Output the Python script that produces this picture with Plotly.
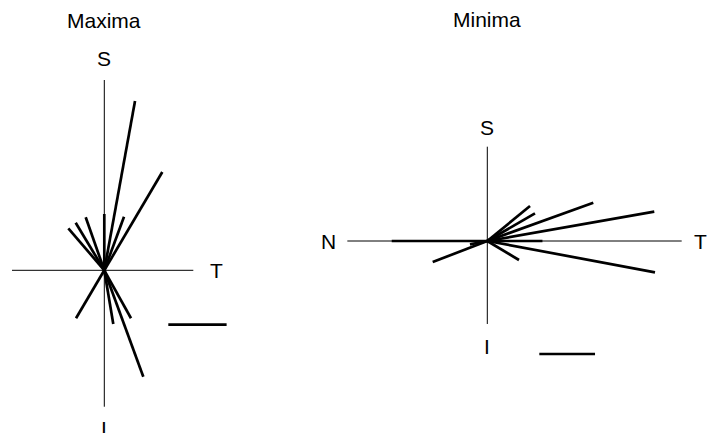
"""Polar-style vector plot: maxima and minima components in the S/T plane."""

import plotly.graph_objects as go

# vector components (units of the scale bar); T = horizontal, S = vertical
max_t = [0.527, 0.995, -0.617, -0.491, -0.319, 0.0, 0.338, -0.485, 0.154, 0.458, 0.669]
max_s = [2.904, 1.686, 0.720, 0.816, 0.909, 0.966, 0.919, -0.823, -0.921, -0.823, -1.825]

min_t = [0.767, 0.856, 1.903, 2.998, 0.99, 3.011, 0.569, -0.980, -1.716, -0.311]
min_s = [0.628, 0.497, 0.688, 0.526, 0.0, -0.562, -0.341, -0.377, 0.0, -0.06]

panel_titles = ["Maxima", "Minima"]
scale_bar = 1.0

W, H = 710, 433
FONT = dict(family="Liberation Sans, Arial, sans-serif", size=21, color="black")

# layout of each panel, in pixels: domain, origin, pixels per unit
panels = [
    dict(dom=(0, 300), cx=104.3, cy=270.3, ppu=58.3,
         axis=dict(left=1.583, right=1.527, up=3.264, down=2.340),
         labels=[("S", 0, 3.633), ("T", 1.916, 0), ("I", 0, -2.714)],
         title_y=4.28, bar=(1.098, -0.933),
         t=max_t, s=max_s),
    dict(dom=(300, 710), cx=487.3, cy=241.0, ppu=55.7,
         axis=dict(left=2.513, right=3.490, up=1.693, down=1.490),
         labels=[("S", 0, 2.041), ("N", -2.846, 0), ("T", 3.828, 0), ("I", 0, -1.898)],
         title_y=3.968, bar=(0.934, -2.029),
         t=min_t, s=min_s),
]

fig = go.Figure()
annotations = []

for k, p in enumerate(panels):
    n = "" if k == 0 else str(k + 1)
    xa, ya = "x" + n, "y" + n
    x0, x1 = p["dom"]
    xr = [(x0 - p["cx"]) / p["ppu"], (x1 - p["cx"]) / p["ppu"]]
    yr = [(p["cy"] - H) / p["ppu"], p["cy"] / p["ppu"]]
    fig.layout["xaxis" + n] = dict(domain=[x0 / W, x1 / W], range=xr, visible=False,
                                  fixedrange=True, anchor=ya)
    fig.layout["yaxis" + n] = dict(domain=[0, 1], range=yr, visible=False,
                                  fixedrange=True, anchor=xa)

    a = p["axis"]
    fig.add_trace(go.Scatter(
        x=[-a["left"], a["right"], None, 0, 0],
        y=[0, 0, None, -a["down"], a["up"]],
        mode="lines", line=dict(color="black", width=1),
        xaxis=xa, yaxis=ya, showlegend=False, hoverinfo="skip",
    ))

    vx, vy = [], []
    for t, s in zip(p["t"], p["s"]):
        vx += [0, t, None]
        vy += [0, s, None]
    fig.add_trace(go.Scatter(
        x=vx, y=vy, mode="lines", line=dict(color="black", width=2.7),
        xaxis=xa, yaxis=ya, showlegend=False,
    ))

    bx, by = p["bar"]
    fig.add_trace(go.Scatter(
        x=[bx, bx + scale_bar], y=[by, by], mode="lines",
        line=dict(color="black", width=2.7),
        xaxis=xa, yaxis=ya, showlegend=False, hoverinfo="skip",
    ))

    for txt, lx, ly in p["labels"]:
        annotations.append(dict(text=txt, x=lx, y=ly, xref=xa, yref=ya,
                                showarrow=False, font=FONT))
    annotations.append(dict(text=panel_titles[k], x=0, y=p["title_y"], xref=xa, yref=ya,
                            showarrow=False, font=FONT))

fig.update_layout(
    width=W, height=H,
    margin=dict(l=0, r=0, t=0, b=0),
    paper_bgcolor="white", plot_bgcolor="white",
    annotations=annotations,
    showlegend=False,
)

# drop the page's default body margin so the figure sits at the window's corner
fig.write_html("out.html", config={"displayModeBar": False},
               post_script="document.body.style.margin='0';")
